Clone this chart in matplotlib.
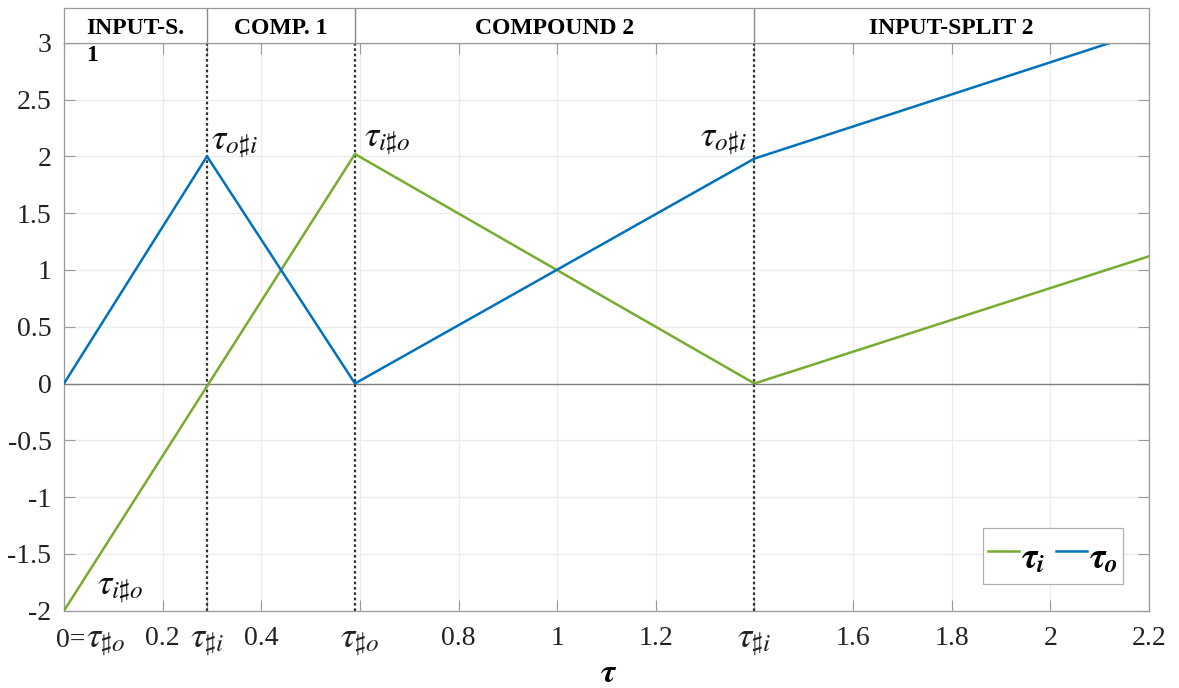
import matplotlib
matplotlib.use("Agg")
import matplotlib.pyplot as plt
from matplotlib.ticker import FixedLocator, FixedFormatter

plt.rcParams['font.family'] = ['Liberation Serif', 'DejaVu Serif']
plt.rcParams['mathtext.fontset'] = 'stix'

# Piecewise-linear traces
x_i = [0.0, 0.59, 1.4, 2.2]
tau_i = [-2.0, 2.02, 0.0, 1.12]
x_o = [0.0, 0.29, 0.59, 1.4, 2.2]
tau_o = [0.0, 2.0, 0.0, 1.98, 3.11]

# Regime boundaries and names
boundaries = [0.29, 0.59, 1.4]
region_edges = [0.0, 0.29, 0.59, 1.4, 2.2]
region_names = ['INPUT-S.\n1', 'COMP. 1', 'COMPOUND 2', 'INPUT-SPLIT 2']

# Axis ticks
x_ticks = [0, 0.2, 0.29, 0.4, 0.6, 0.8, 1, 1.2, 1.4, 1.6, 1.8, 2, 2.2]
x_labels = ['0=' + r'$\tau_{\sharp o}$', '0.2', r'$\tau_{\sharp i}$', '0.4', r'$\tau_{\sharp o}$', '0.8',
            '1', '1.2', r'$\tau_{\sharp i}$', '1.6', '1.8', '2', '2.2']
y_ticks = [-2, -1.5, -1, -0.5, 0, 0.5, 1, 1.5, 2, 2.5, 3]
y_labels = ['-2', '-1.5', '-1', '-0.5', '0', '0.5', '1', '1.5', '2', '2.5', '3']

# Point annotations: (x, y, text, horizontal alignment)
notes = [
    (0.298, 2.07, r'$\tau_{o\sharp i}$', 'left'),
    (0.608, 2.09, r'$\tau_{i\sharp o}$', 'left'),
    (1.385, 2.09, r'$\tau_{o\sharp i}$', 'right'),
    (0.066, -1.85, r'$\tau_{i\sharp o}$', 'left'),
]

GREEN = '#77AC30'
BLUE = '#0072BD'
AXC = '#9a9a9a'
MATH_FS = 26
TICK_FS = 20

W, H = 1179, 688
fig = plt.figure(figsize=(W / 100, H / 100), dpi=100)
l, r = 64 / W, 1149 / W
b, t = 1 - 610.7 / H, 1 - 42.7 / H
ax = fig.add_axes([l, b, r - l, t - b])

ax.plot(x_i, tau_i, color=GREEN, lw=1.8, label=r'$\mathbfit{\tau}_{\mathbfit{i}}$', zorder=4)
ax.plot(x_o, tau_o, color=BLUE, lw=1.8, label=r'$\mathbfit{\tau}_{\mathbfit{o}}$', zorder=4)

ax.axhline(0, color='#808080', lw=1.0, zorder=2)
for xb in boundaries:
    ax.axvline(xb, color='#333333', ls=(0, (1.2, 1.2)), lw=1.6, zorder=3)

ax.set_xlim(0, 2.2)
ax.set_ylim(-2, 3)

# plain numeric labels go through the formatter, symbolic ones are drawn larger below
plain_labels = ['' if '$' in s else s for s in x_labels]
ax.xaxis.set_major_locator(FixedLocator(x_ticks))
ax.xaxis.set_major_formatter(FixedFormatter(plain_labels))
ax.yaxis.set_major_locator(FixedLocator(y_ticks))
ax.yaxis.set_major_formatter(FixedFormatter(y_labels))
ax.tick_params(direction='in', length=8, width=0.8, color=AXC, labelsize=TICK_FS,
               labelcolor='#222222', top=True, right=True)
ax.tick_params(axis='x', pad=11)
ax.tick_params(axis='y', pad=9)
ax.grid(True, color='#ebebeb', lw=0.9, zorder=0)
ax.set_axisbelow(True)
for s in ax.spines.values():
    s.set_color(AXC)
    s.set_linewidth(0.9)

for xv, s in zip(x_ticks, x_labels):
    if '$' not in s:
        continue
    pos = s.index('$')
    prefix, sym = s[:pos], s[pos:]
    if prefix:
        ax.annotate(prefix, xy=(xv, 0), xycoords=('data', 'axes fraction'),
                    xytext=(-8, -36), textcoords='offset pixels',
                    ha='left', va='baseline', fontsize=TICK_FS, color='#222222')
        ax.annotate(sym, xy=(xv, 0), xycoords=('data', 'axes fraction'),
                    xytext=(22, -36), textcoords='offset pixels',
                    ha='left', va='baseline', fontsize=MATH_FS, color='#222222')
    else:
        ax.annotate(sym, xy=(xv, 0), xycoords=('data', 'axes fraction'),
                    xytext=(0, -36), textcoords='offset pixels',
                    ha='center', va='baseline', fontsize=MATH_FS, color='#222222')

ax.set_xlabel(r'$\mathbfit{\tau}$', fontsize=24)
ax.xaxis.label.set_va('baseline')
ax.xaxis.set_label_coords(0.502, -71 / 568)

for xn, yn, txt, ha in notes:
    ax.text(xn, yn, txt, fontsize=MATH_FS, ha=ha, va='baseline', color='#111111', zorder=5)

leg = ax.legend(loc='lower right', bbox_to_anchor=(0.976, 0.047), ncol=2,
                fontsize=MATH_FS, frameon=True, fancybox=False, edgecolor='#b0b0b0',
                framealpha=1, handlelength=0.85, handleheight=1.55, handletextpad=0.06,
                columnspacing=0.3, borderpad=0.15, borderaxespad=0)
leg.get_frame().set_linewidth(0.9)

# Regime header band above the plot
ht = 1 - 7.7 / H
hax = fig.add_axes([l, t, r - l, ht - t])
hax.set_xlim(0, 2.2)
hax.set_ylim(0, 1)
hax.set_xticks([])
hax.set_yticks([])
for s in hax.spines.values():
    s.set_color(AXC)
    s.set_linewidth(0.9)
for xb in boundaries:
    hax.axvline(xb, color='#8a8a8a', lw=1.0)
for k, name in enumerate(region_names):
    xc = 0.5 * (region_edges[k] + region_edges[k + 1])
    # baseline alignment pins the last line; wrapped names spill below the band
    y = -0.52 if '\n' in name else 0.24
    hax.text(xc, y, name, ha='center', va='baseline', multialignment='left',
             fontsize=17, fontweight='bold', clip_on=False, linespacing=1.35)

fig.savefig('out.png', dpi=100)
